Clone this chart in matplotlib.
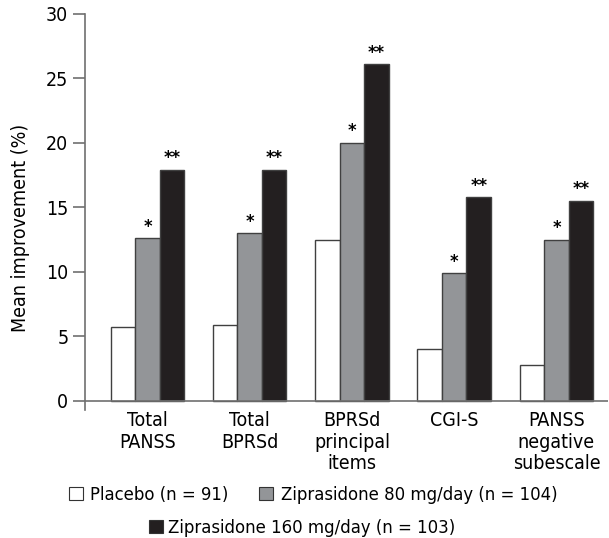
import numpy as np
import matplotlib
matplotlib.use('Agg')
import matplotlib.pyplot as plt
from matplotlib.patches import Patch

plt.rcParams['font.family'] = ['DejaVu Sans']
plt.rcParams['font.stretch'] = 'condensed'

# data
categories = ['Total\nPANSS', 'Total\nBPRSd', 'BPRSd\nprincipal\nitems', 'CGI-S',
              'PANSS\nnegative\nsubescale']
placebo = [5.7, 5.9, 12.5, 4.0, 2.8]
zip80 = [12.6, 13.0, 20.0, 9.9, 12.5]
zip160 = [17.9, 17.9, 26.1, 15.8, 15.5]
stars80 = ['*', '*', '*', '*', '*']
stars160 = ['**', '**', '**', '**', '**']
labels = ['Placebo (n = 91)', 'Ziprasidone 80 mg/day (n = 104)',
          'Ziprasidone 160 mg/day (n = 103)']
colors = ['white', '#939598', '#231f20']

fig = plt.figure(figsize=(6.09, 5.38), dpi=100)
ax = fig.add_axes([0.1396, 0.238, 0.858, 0.736])

x = np.arange(len(categories))
w = 0.24
edge = '#404040'
for i, (vals, c) in enumerate(zip([placebo, zip80, zip160], colors)):
    ax.bar(x + (i - 1) * w, vals, w, color=c, edgecolor=edge, linewidth=1.0)

for xi, v, s in zip(x, zip80, stars80):
    ax.text(xi, v + 0.2, s, ha='center', va='bottom', fontsize=13, fontweight='bold')
for xi, v, s in zip(x, zip160, stars160):
    ax.text(xi + w, v + 0.2, s, ha='center', va='bottom', fontsize=13, fontweight='bold')

ax.set_xlim(-0.61, 4.5)
ax.set_ylim(-0.7, 30)
ax.axhline(0, color='#707070', linewidth=1.2, zorder=3)
for s in ['top', 'right', 'bottom']:
    ax.spines[s].set_visible(False)
ax.spines['left'].set_color('#707070')
ax.spines['left'].set_linewidth(1.2)
ax.set_yticks([0, 5, 10, 15, 20, 25, 30])
ax.tick_params(axis='y', length=9, width=1.2, color='#707070', labelsize=14, pad=3)
ax.set_xticks(x)
ax.set_xticklabels(categories, fontsize=14, linespacing=1.15)
ax.tick_params(axis='x', length=0, pad=1)
ax.set_ylabel('Mean improvement (%)', fontsize=14)
ax.yaxis.set_label_coords(-0.105, 0.46)

h = [Patch(facecolor=c, edgecolor='#333333', linewidth=0.8) for c in colors]
fig.legend(h[:2], labels[:2], loc='center', bbox_to_anchor=(0.514, 0.08), ncol=2,
           frameon=False, fontsize=13.2, handlelength=0.75, handleheight=0.75,
           handletextpad=0.4, columnspacing=1.7)
fig.legend(h[2:], labels[2:], loc='center', bbox_to_anchor=(0.496, 0.019),
           frameon=False, fontsize=13.2, handlelength=0.75, handleheight=0.75,
           handletextpad=0.3)

fig.savefig('out.png', dpi=100)
